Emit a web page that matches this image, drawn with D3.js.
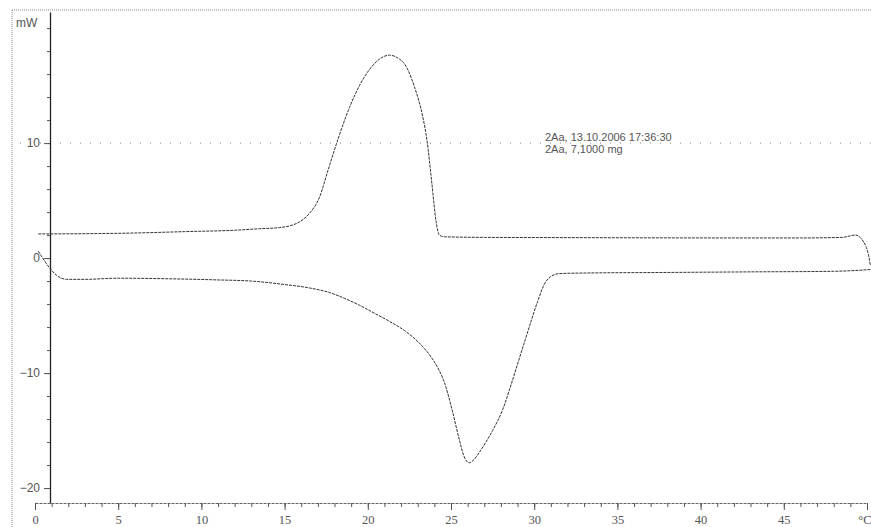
<!DOCTYPE html>
<html>
<head>
<meta charset="utf-8">
<script src="https://cdn.jsdelivr.net/npm/d3@7"></script>
<style>
  body { margin: 0; background: #fff; }
  text { font-family: "Liberation Sans", Arial, sans-serif; fill: #555; }
</style>
</head>
<body>
<div id="chart"></div>
<script>
// Data (temperature in °C, heat flow in mW)
var upperTemp = [0.2, 3, 6, 9, 12, 13.5, 14.7, 15.3, 15.9, 16.5, 17.1, 17.6, 18.2, 18.9, 19.5, 20.1, 20.7, 21.3,
                 21.9, 22.2, 22.8, 23.3, 23.55, 23.85, 24.1, 24.3, 24.6, 27, 32, 37, 42, 46, 48.5, 49.3, 49.8, 50.1, 50.2];
var upperFlow = [2.1, 2.12, 2.18, 2.3, 2.42, 2.55, 2.65, 2.8, 3.15, 3.9, 5.3, 7.6, 10.3, 13.1, 15.0, 16.4, 17.3, 17.65,
                 17.3, 16.9, 14.9, 12.3, 10.3, 6.5, 3.2, 2.0, 1.85, 1.8, 1.78, 1.76, 1.75, 1.75, 1.8, 2.0, 1.4, 0.2, -0.6];

var lowerTemp = [0.2, 0.6, 0.9, 1.3, 1.9, 3, 5, 8, 11, 13, 15, 16.5, 17.7, 18.6, 19.5, 20.4, 21.3, 22.2, 23.1,
                 23.8, 24.3, 24.6, 25.1, 25.5, 25.8, 26.1, 26.4, 26.7, 27.1, 27.5, 28.1, 28.7, 29.2, 29.7, 30.2, 30.6,
                 31.0, 31.5, 33, 38, 43, 48, 50.2];
var lowerFlow = [0.6, -0.3, -0.9, -1.5, -1.85, -1.85, -1.75, -1.8, -1.9, -2.0, -2.3, -2.6, -3.0, -3.5, -4.1, -4.8, -5.5,
                 -6.3, -7.4, -8.6, -9.8, -10.8, -13.4, -15.8, -17.3, -17.8, -17.5, -16.9, -16.0, -15.0, -13.2,
                 -10.6, -8.3, -6.0, -3.8, -2.3, -1.6, -1.35, -1.3, -1.25, -1.2, -1.15, -1.0];

var xMajorTicks = [0, 5, 10, 15, 20, 25, 30, 35, 40, 45, 50];
var xTickLabels = ["0", "5", "10", "15", "20", "25", "30", "35", "40", "45", "°C"];
var yMajorTicks = [-20, -10, 0, 10];
var gridValues = [10];
var noteLines = ["2Aa, 13.10.2006 17:36:30", "2Aa, 7,1000 mg"];

var width = 871, height = 527;

var svg = d3.select("#chart").append("svg")
    .attr("width", width)
    .attr("height", height);

// scales
var x = d3.scaleLinear().domain([0, 50]).range([35, 867]);
var y = d3.scaleLinear().domain([-21.3, 21.4]).range([503, 12]);
var yAxisX = 50;

// dotted frame (top and left)
svg.append("line")
    .attr("x1", 12).attr("x2", width).attr("y1", 10).attr("y2", 10)
    .attr("stroke", "#888").attr("stroke-dasharray", "1,1");
svg.append("line")
    .attr("x1", 12).attr("x2", 12).attr("y1", 10).attr("y2", height)
    .attr("stroke", "#888").attr("stroke-dasharray", "1,1");

// gridline at 10
svg.selectAll(".grid").data(gridValues).enter().append("line")
    .attr("class", "grid")
    .attr("x1", 20).attr("x2", width)
    .attr("y1", function(d) { return y(d); })
    .attr("y2", function(d) { return y(d); })
    .attr("stroke", "#888")
    .attr("stroke-dasharray", "1,9");

// x axis: minor ticks every 1, major every 5
var xMinor = svg.append("g")
    .attr("transform", "translate(0," + y(-21.3) + ")")
    .call(d3.axisBottom(x).tickValues(d3.range(0, 51, 1)).tickSize(4).tickFormat("").tickSizeOuter(0));
var xMajor = svg.append("g")
    .attr("transform", "translate(0," + y(-21.3) + ")")
    .call(d3.axisBottom(x).tickValues(xMajorTicks).tickSize(7).tickSizeOuter(0)
      .tickFormat(function(d, i) { return xTickLabels[i]; }));
xMajor.select(".domain").remove();
xMinor.select(".domain").attr("stroke", "#666").attr("stroke-dasharray", "3,1");
xMajor.selectAll("text")
    .attr("dy", "0.85em")
    .style("font-size", "12.5px")
    .style("font-family", "Liberation Serif, serif");
// last label sits against the right edge
xMajor.selectAll(".tick").filter(function(d) { return d === 50; })
    .select("text").attr("text-anchor", "end").attr("x", 4);

// y axis: minor ticks every 2, labelled at -20, -10, 0, 10
var yMinor = svg.append("g")
    .attr("transform", "translate(" + yAxisX + ",0)")
    .call(d3.axisLeft(y).tickValues(d3.range(-20, 21, 2)).tickSize(3).tickFormat("").tickSizeOuter(0));
yMinor.select(".domain").attr("stroke", "#222").attr("stroke-width", 1.3);
var yMajor = svg.append("g")
    .attr("transform", "translate(" + yAxisX + ",0)")
    .call(d3.axisLeft(y).tickValues(yMajorTicks).tickSize(6).tickPadding(4));
yMajor.select(".domain").remove();
yMajor.selectAll("text").style("font-size", "12px");
svg.selectAll(".tick line").attr("stroke", "#555");

// unit label
svg.append("text")
    .attr("x", 16).attr("y", 27)
    .style("font-size", "12px")
    .text("mW");

// curves
var line = d3.line()
    .x(function(d) { return x(d[0]); })
    .y(function(d) { return y(d[1]); })
    .curve(d3.curveMonotoneX);

var upper = d3.zip(upperTemp, upperFlow);
var lower = d3.zip(lowerTemp, lowerFlow);

[upper, lower].forEach(function(series) {
  svg.append("path")
    .datum(series)
    .attr("fill", "none")
    .attr("stroke", "#333")
    .attr("stroke-width", 1)
    .attr("stroke-dasharray", "3,1")
    .attr("d", line);
});

// annotation
svg.selectAll(".note").data(noteLines).enter().append("text")
    .attr("class", "note")
    .attr("x", 545)
    .attr("y", function(d, i) { return 141 + i * 12; })
    .style("font-size", "11px")
    .text(function(d) { return d; });
</script>
</body>
</html>
